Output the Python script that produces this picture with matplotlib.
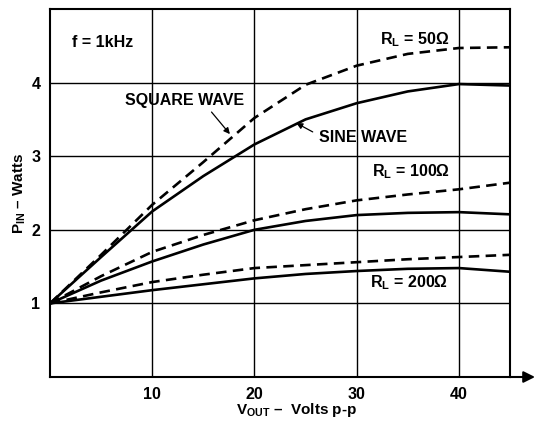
import matplotlib
matplotlib.use("Agg")
import matplotlib.pyplot as plt
import numpy as np

plt.rcParams['font.family'] = ['Liberation Sans', 'DejaVu Sans']
plt.rcParams['font.weight'] = 'bold'
plt.rcParams['mathtext.fontset'] = 'custom'
plt.rcParams['mathtext.rm'] = 'Liberation Sans:bold'
plt.rcParams['mathtext.it'] = 'Liberation Sans:bold'
plt.rcParams['mathtext.bf'] = 'Liberation Sans:bold'

# V_OUT (Volts p-p)
vout = [0, 5, 10, 15, 20, 25, 30, 35, 40, 45]

# P_IN (Watts)
sine_50 = [1.0, 1.63, 2.25, 2.73, 3.16, 3.50, 3.72, 3.88, 3.98, 3.96]
square_50 = [1.0, 1.66, 2.34, 2.92, 3.52, 3.97, 4.23, 4.39, 4.47, 4.48]
sine_100 = [1.0, 1.31, 1.57, 1.80, 2.00, 2.12, 2.20, 2.23, 2.24, 2.21]
square_100 = [1.0, 1.37, 1.70, 1.93, 2.13, 2.28, 2.40, 2.48, 2.55, 2.64]
sine_200 = [1.0, 1.09, 1.18, 1.26, 1.34, 1.40, 1.44, 1.47, 1.48, 1.43]
square_200 = [1.0, 1.15, 1.29, 1.39, 1.48, 1.52, 1.56, 1.60, 1.63, 1.66]

fig = plt.figure(figsize=(5.35, 4.21), dpi=100)
ax = fig.add_axes([50 / 535, 44 / 421, 460 / 535, 368 / 421])

for s in [sine_50, sine_100, sine_200]:
    ax.plot(vout, s, color='black', lw=1.9, solid_capstyle='butt',
            solid_joinstyle='round')
for s in [square_50, square_100, square_200]:
    ax.plot(vout, s, color='black', lw=1.9, dashes=(4.0, 2.4))

ax.set_xlim(0, 45)
ax.set_ylim(0, 5)
ax.set_xticks([10, 20, 30, 40])
ax.set_yticks([1, 2, 3, 4])
ax.tick_params(length=0, labelsize=11.5, pad=7)
for lab in ax.get_xticklabels() + ax.get_yticklabels():
    lab.set_fontweight('bold')
ax.grid(True, color='black', lw=1.0)
for sp in ax.spines.values():
    sp.set_linewidth(1.5)

# arrow on x axis
ax.annotate('', xy=(1 + 25 / 460, 0), xytext=(1, 0), xycoords='axes fraction',
            textcoords='axes fraction',
            arrowprops=dict(arrowstyle='-|>', color='black', lw=1.5,
                            mutation_scale=17, shrinkA=0, shrinkB=0),
            annotation_clip=False)

fs = 11.5
ax.text(2.2, 4.55, 'f = 1kHz', fontsize=fs, va='center')
ax.text(32.3, 4.58, r'R$_\mathregular{L}$ = 50Ω', fontsize=fs, va='center')
ax.text(31.5, 2.79, r'R$_\mathregular{L}$ = 100Ω', fontsize=fs, va='center')
ax.text(31.3, 1.28, r'R$_\mathregular{L}$ = 200Ω', fontsize=fs, va='center')
ax.text(7.3, 3.76, 'SQUARE WAVE', fontsize=fs, va='center')
ax.text(26.3, 3.25, 'SINE WAVE', fontsize=fs, va='center')
ax.annotate('', xy=(17.6, 3.3), xytext=(15.8, 3.6),
            arrowprops=dict(arrowstyle='-|>', color='black', lw=0.9,
                            mutation_scale=9, shrinkA=0, shrinkB=0))
ax.annotate('', xy=(24.1, 3.45), xytext=(25.7, 3.33),
            arrowprops=dict(arrowstyle='-|>', color='black', lw=0.9,
                            mutation_scale=9, shrinkA=0, shrinkB=0))

fig.text(20 / 535, 1 - 193 / 421, r'P$_\mathregular{IN}$ – Watts', rotation=90,
         fontsize=11, ha='center', va='center')
fig.text(297 / 535, 1 - 410 / 421, r'V$_\mathregular{OUT}$ –  Volts p-p',
         fontsize=11, ha='center', va='center')

fig.savefig('out.png', dpi=100)
